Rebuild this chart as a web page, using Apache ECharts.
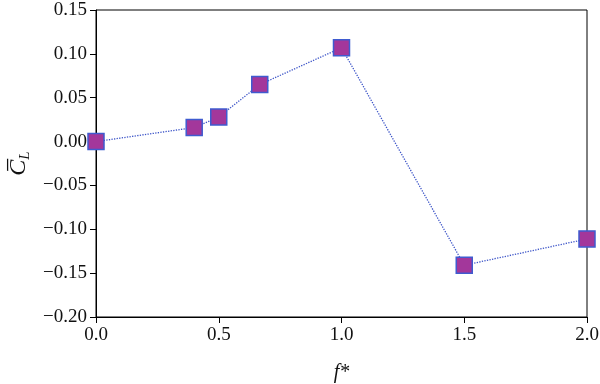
<!DOCTYPE html>
<html><head><meta charset="utf-8">
<script src="https://cdn.jsdelivr.net/npm/echarts@6/dist/echarts.min.js"></script>
<style>html,body{margin:0;padding:0;background:#fff}#c{width:600px;height:384px}</style>
</head><body><div id="c"></div>
<script>
var fStar = [0, 0.4, 0.5, 0.667, 1.0, 1.5, 2.0];
var cL = [0.0, 0.016, 0.028, 0.065, 0.107, -0.141, -0.111];
var xTicks = {min: 0, max: 2.0, interval: 0.5};
var yTicks = {min: -0.20, max: 0.15, interval: 0.05};

var font = '"Liberation Serif", "DejaVu Serif", serif';
var chart = echarts.init(document.getElementById('c'));
chart.setOption({
  animation: false,
  grid: {left: 96, right: 13, top: 10, bottom: 67, show: true, borderColor: '#000', borderWidth: 1,
         containLabel: false, outerBoundsMode: 'none'},
  xAxis: {
    type: 'value', min: xTicks.min, max: xTicks.max, interval: xTicks.interval,
    name: 'f*', nameLocation: 'middle', nameGap: 46,
    nameTextStyle: {fontFamily: font, fontStyle: 'italic', fontSize: 20, color: '#111'},
    axisLine: {show: true, onZero: false, lineStyle: {color: '#000', width: 1}},
    axisTick: {show: true, length: 6, lineStyle: {color: '#000'}},
    axisLabel: {fontFamily: font, fontSize: 19, color: '#111', margin: 9,
      formatter: function(v){return v.toFixed(1);}},
    splitLine: {show: false}
  },
  yAxis: {
    type: 'value', min: yTicks.min, max: yTicks.max, interval: yTicks.interval,
    name: '{c|C\u0305}{s|L}', nameLocation: 'middle', nameGap: 60,
    nameTextStyle: {fontFamily: font, color: '#111',
      rich: {
        c: {fontFamily: font, fontStyle: 'italic', fontSize: 24, color: '#111'},
        s: {fontFamily: font, fontStyle: 'italic', fontSize: 15, color: '#111', padding: [12, 0, 0, 0]}
      }},
    axisLine: {show: true, onZero: false, lineStyle: {color: '#000', width: 1}},
    axisTick: {show: true, length: 6, lineStyle: {color: '#000'}},
    axisLabel: {fontFamily: font, fontSize: 19, color: '#111', margin: 9,
      formatter: function(v){var s = Math.abs(v).toFixed(2); return (v < -1e-9 ? '\u2212' : '') + s;}},
    splitLine: {show: false}
  },
  series: [{
    type: 'line',
    data: fStar.map(function(x, i){return [x, cL[i]];}),
    symbol: 'rect', symbolSize: 16,
    lineStyle: {type: 'dotted', color: '#3d55c8', width: 1.3},
    itemStyle: {color: '#a3379b', borderColor: '#3f5bd0', borderWidth: 1.5}
  }]
});
</script></body></html>
